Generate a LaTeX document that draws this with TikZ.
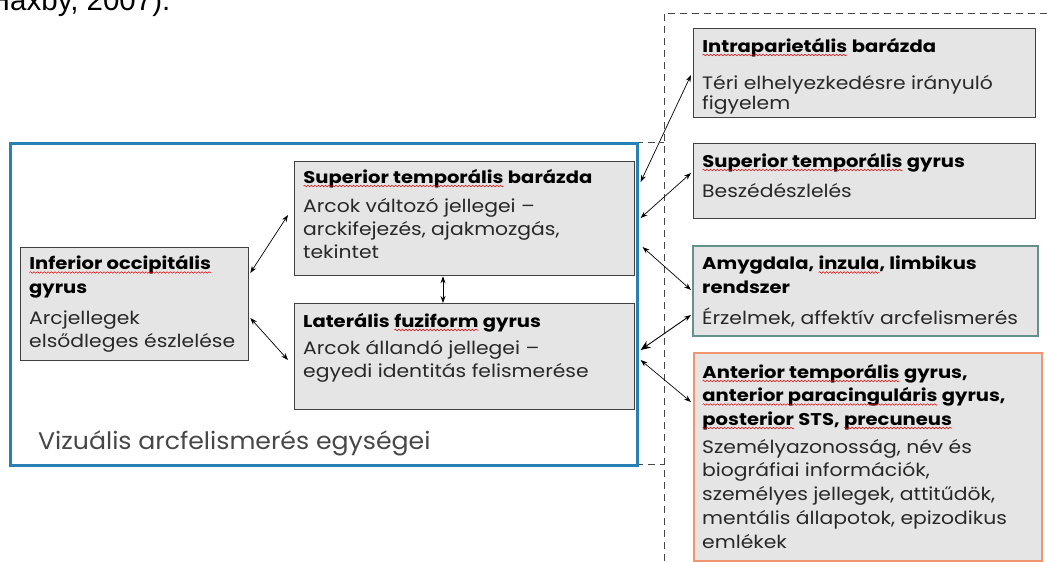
\documentclass[tikz,border=0pt]{standalone}
\usepackage{fontspec}
\setmainfont{Poppins}
\newfontfamily\hdfont{Poppins}[FakeStretch=1.15]
\newfontfamily\bdfont{Poppins}[FakeStretch=1.13]
\newfontfamily\lbfont{Poppins}[FakeStretch=1.05]
\newfontfamily\arialf{Liberation Sans}
\usetikzlibrary{arrows.meta,calc,decorations.pathmorphing}
\definecolor{boxfill}{RGB}{229,229,229}
\definecolor{blueb}{RGB}{40,128,180}
\definecolor{tealb}{RGB}{100,145,140}
\definecolor{orangeb}{RGB}{240,150,110}
\definecolor{bodyc}{RGB}{40,40,40}
\definecolor{dashc}{RGB}{70,70,70}
\newcommand\wavy[1]{\tikz[baseline=(w.base)]{\node[inner sep=0pt,outer sep=0pt] (w) {#1};\draw[red!85!black, line width=0.5pt, decorate, decoration={snake,amplitude=0.8pt,segment length=3.5pt}] ([yshift=-3pt]w.base west) -- ([yshift=-3pt]w.base east);}}
\tikzset{
  bx/.style={draw=black!75, fill=boxfill, line width=1.3pt, inner sep=0pt, anchor=north west},
  hd/.style={anchor=base west, inner sep=0pt, align=left, font=\hdfont\fontsize{17}{23.5}\selectfont\bfseries},
  bd/.style={anchor=base west, inner sep=0pt, align=left, text=bodyc, font=\bdfont\fontsize{18}{23}\selectfont},
  arr/.style={{Stealth[length=7pt,width=5pt]}-{Stealth[length=7pt,width=5pt]}, line width=0.7pt},
  dsh/.style={draw=dashc, line width=0.9pt, dash pattern=on 7pt off 5pt},
}
\begin{document}
\begin{tikzpicture}[x=1pt,y=-1pt]
\useasboundingbox (0,0) rectangle (1047,562);
\clip (0,0) rectangle (1047,562);
\node[anchor=base west, inner sep=0pt, font=\fontsize{29.5}{30}\selectfont\arialf] (haxby) at (-11.3,10.5) {Haxby, 2007).};
% dashed frame
\coordinate (d0) at (636,142);
\coordinate (d1) at (664,142);
\coordinate (d2) at (664,13);
\coordinate (d3) at (1047,13);
\coordinate (d4) at (664,562);
\coordinate (d5) at (636,464);
\coordinate (d6) at (664,464);
\draw[dsh] (d3) -- (d2) -- (d4);
\draw[dsh] (d0) -- (d1);
\draw[dsh] (d5) -- (d6);
% blue container
\node[draw=blueb, line width=2.6pt, fill=white, inner sep=0pt, anchor=north west, minimum width=627pt, minimum height=322pt] (blue) at (9,142) {};
\node[anchor=base west, inner sep=0pt, text=black!72, font=\lbfont\fontsize{24}{26}\selectfont] (vlab) at (38,449) {Vizuális arcfelismerés egységei};
% left boxes
\node[bx, minimum width=228pt, minimum height=113pt] (iog) at (20,247) {};
\node[hd] (iogh) at (29,293) {\wavy{Inferior occipitális}\\gyrus};
\node[bd] (iogb) at (29,347.5) {Arcjellegek\\elsődleges észlelése};
\node[bx, minimum width=340pt, minimum height=114pt] (stb) at (294,161) {};
\node[hd] (stbh) at (303,183) {\wavy{Superior temporális} barázda};
\node[bd] (stbb) at (303,258) {Arcok változó jellegei –\\arckifejezés, ajakmozgás,\\tekintet};
\node[bx, minimum width=340pt, minimum height=106pt] (lfg) at (294,303) {};
\node[hd] (lfgh) at (303,327) {Laterális \wavy{fuziform} gyrus};
\node[bd] (lfgb) at (303,377.5) {Arcok állandó jellegei –\\egyedi identitás felismerése};
% right boxes
\node[bx, minimum width=342pt, minimum height=89pt] (ip) at (693,28) {};
\node[hd] (iph) at (702,52) {\wavy{Intraparietális} barázda};
\node[bd, font=\bdfont\fontsize{18}{20}\selectfont] (ipb) at (702,109) {Téri elhelyezkedésre irányuló\\figyelem};
\node[bx, minimum width=342pt, minimum height=75pt] (stg) at (693,143) {};
\node[hd] (stgh) at (702,167) {\wavy{Superior temporális} gyrus};
\node[bd] (stgb) at (702,197) {Beszédészlelés};
\node[bx, draw=tealb, line width=1.8pt, minimum width=345pt, minimum height=90pt] (amy) at (692,245) {};
\node[hd] (amyh) at (702,293) {Amygdala, \wavy{inzula}, limbikus\\rendszer};
\node[bd] (amyb) at (702,324) {Érzelmek, affektív arcfelismerés};
\node[bx, draw=orangeb, line width=1.8pt, minimum width=348pt, minimum height=208pt] (ant) at (693,352) {};
\node[hd] (anth) at (702,425) {\wavy{Anterior temporális} gyrus,\\\wavy{anterior paracinguláris} gyrus,\\\wavy{posterior} STS, \wavy{precuneus}};
\node[bd, font=\bdfont\fontsize{18}{23.7}\selectfont] (antb) at (702,548) {Személyazonosság, név és\\biográfiai információk,\\személyes jellegek, attitűdök,\\mentális állapotok, epizodikus\\emlékek};
% connectors
\draw[arr] ($(iog.north east)+(1,26)$) -- ($(stb.north west)+(-6,54)$);
\draw[arr] ($(iog.north east)+(1,71)$) -- ($(lfg.north west)+(-6,57)$);
\draw[arr] ($(stb.south west)+(149,0)$) -- ($(lfg.north west)+(149,0)$);
\draw[arr] ($(blue.north east)+(2,40)$) -- ($(ip.north west)+(-2,47)$);
\draw[arr] ($(blue.north east)+(2,76)$) -- ($(stg.north west)+(-2,30)$);
\draw[arr] ($(blue.north east)+(4,105)$) -- ($(amy.north west)+(-1,45)$);
\draw[{Stealth[length=10pt,width=8pt]}-{Stealth[length=7pt,width=5pt]}, line width=0.9pt] ($(blue.north east)+(2,208)$) -- ($(amy.north west)+(-1,70)$);
\draw[arr] ($(blue.north east)+(2,218)$) -- ($(ant.north west)+(-2,50)$);
\end{tikzpicture}
\end{document}
